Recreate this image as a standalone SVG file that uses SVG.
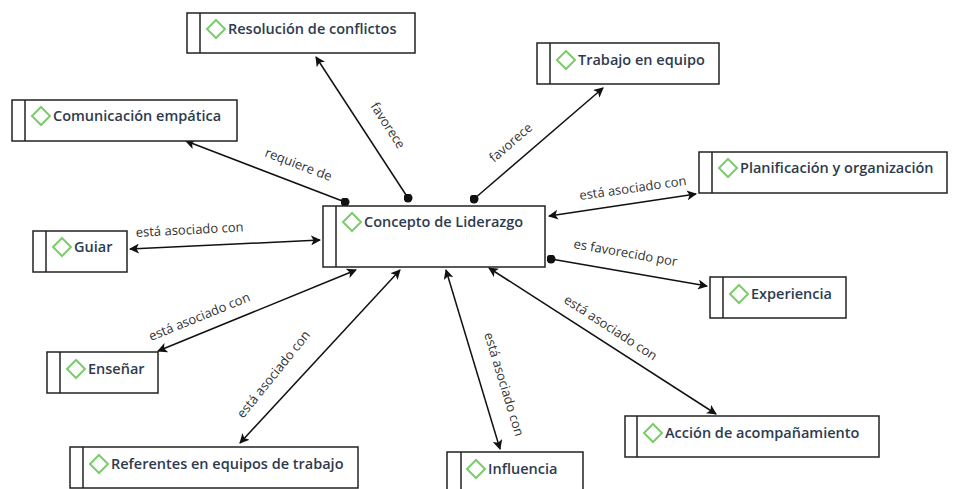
<svg xmlns="http://www.w3.org/2000/svg" width="955" height="489" viewBox="0 0 955 489">
<style>
.box{fill:#fff;stroke:#222;stroke-width:1.5}
.bar{stroke:#222;stroke-width:1.5}
.dia{fill:none;stroke:#7ccb6c;stroke-width:2}
.nt{font-family:"Open Sans","Noto Sans",sans-serif;font-size:14.5px;font-weight:600;fill:#2e3b4e}
.lt{font-family:"Open Sans","Noto Sans",sans-serif;font-size:13px;fill:#333}
.c{stroke:#111;stroke-width:1.5;fill:none}
</style>
<defs>
<marker id="ar" viewBox="0 0 10 10" refX="9" refY="5" markerWidth="10" markerHeight="10" markerUnits="userSpaceOnUse" orient="auto-start-reverse"><path d="M0,0 L10,5 L0,10 L2.5,5 z" fill="#111"/></marker>
<marker id="dt" viewBox="0 0 10 10" refX="5" refY="5" markerWidth="9" markerHeight="9" markerUnits="userSpaceOnUse"><circle cx="5" cy="5" r="5" fill="#111"/></marker>
</defs>
<rect width="955" height="489" fill="#fff"/>
<g id="connectors">
<line class="c" x1="408" y1="198" x2="316" y2="57" marker-start="url(#dt)" marker-end="url(#ar)"/>
<line class="c" x1="474" y1="199" x2="603" y2="88" marker-start="url(#dt)" marker-end="url(#ar)"/>
<line class="c" x1="345" y1="202" x2="186" y2="141" marker-start="url(#dt)" marker-end="url(#ar)"/>
<line class="c" x1="549" y1="216" x2="696" y2="194" marker-start="url(#ar)" marker-end="url(#ar)"/>
<line class="c" x1="130" y1="249" x2="320" y2="240" marker-start="url(#ar)" marker-end="url(#ar)"/>
<line class="c" x1="551" y1="259" x2="707" y2="286" marker-start="url(#dt)" marker-end="url(#ar)"/>
<line class="c" x1="158" y1="351" x2="356" y2="270" marker-start="url(#ar)" marker-end="url(#ar)"/>
<line class="c" x1="240" y1="443" x2="400" y2="270" marker-start="url(#ar)" marker-end="url(#ar)"/>
<line class="c" x1="446" y1="270" x2="500" y2="449" marker-start="url(#ar)" marker-end="url(#ar)"/>
<line class="c" x1="489" y1="268" x2="716" y2="414" marker-start="url(#ar)" marker-end="url(#ar)"/>
<text class="lt" transform="translate(370,106) rotate(57)">favorece</text>
<text class="lt" transform="translate(494,163) rotate(-41)">favorece</text>
<text class="lt" transform="translate(264,156) rotate(21)">requiere de</text>
<text class="lt" transform="translate(580,200) rotate(-8)">está asociado con</text>
<text class="lt" transform="translate(136,237) rotate(-3)">está asociado con</text>
<text class="lt" transform="translate(573,248) rotate(10)">es favorecido por</text>
<text class="lt" transform="translate(151,341) rotate(-22)">está asociado con</text>
<text class="lt" transform="translate(243,419) rotate(-51)">está asociado con</text>
<text class="lt" transform="translate(484,334) rotate(73)">está asociado con</text>
<text class="lt" transform="translate(563,302) rotate(33)">está asociado con</text>
</g>
<g id="n-concepto"><rect class="box" x="323" y="206" width="222" height="61"/><line class="bar" x1="336" y1="206" x2="336" y2="267"/><path class="dia" d="M352,213 L361,222 L352,231 L343,222 z"/><text class="nt" x="364" y="227">Concepto de Liderazgo</text></g>
<g id="n-resolucion"><rect class="box" x="187" y="13" width="228" height="40"/><line class="bar" x1="200" y1="13" x2="200" y2="53"/><path class="dia" d="M216,20 L225,29 L216,38 L207,29 z"/><text class="nt" x="228" y="34">Resolución de conflictos</text></g>
<g id="n-trabajo"><rect class="box" x="537" y="43" width="182" height="41"/><line class="bar" x1="550" y1="43" x2="550" y2="84"/><path class="dia" d="M566,51 L575,60 L566,69 L557,60 z"/><text class="nt" x="578" y="65">Trabajo en equipo</text></g>
<g id="n-comunicacion"><rect class="box" x="12" y="100" width="225" height="41"/><line class="bar" x1="25" y1="100" x2="25" y2="141"/><path class="dia" d="M41,107 L50,116 L41,125 L32,116 z"/><text class="nt" x="53" y="121">Comunicación empática</text></g>
<g id="n-planificacion"><rect class="box" x="699" y="152" width="248" height="41"/><line class="bar" x1="712" y1="152" x2="712" y2="193"/><path class="dia" d="M728,159 L737,168 L728,177 L719,168 z"/><text class="nt" x="740" y="173">Planificación y organización</text></g>
<g id="n-guiar"><rect class="box" x="33" y="231" width="94" height="41"/><line class="bar" x1="46" y1="231" x2="46" y2="272"/><path class="dia" d="M62,238 L71,247 L62,256 L53,247 z"/><text class="nt" x="74" y="252">Guiar</text></g>
<g id="n-experiencia"><rect class="box" x="710" y="277" width="136" height="41"/><line class="bar" x1="723" y1="277" x2="723" y2="318"/><path class="dia" d="M739,285 L748,294 L739,303 L730,294 z"/><text class="nt" x="751" y="299">Experiencia</text></g>
<g id="n-ensenar"><rect class="box" x="47" y="352" width="111" height="41"/><line class="bar" x1="60" y1="352" x2="60" y2="393"/><path class="dia" d="M76,360 L85,369 L76,378 L67,369 z"/><text class="nt" x="88" y="374">Enseñar</text></g>
<g id="n-accion"><rect class="box" x="625" y="416" width="254" height="41"/><line class="bar" x1="637" y1="416" x2="637" y2="457"/><path class="dia" d="M653,424 L662,433 L653,442 L644,433 z"/><text class="nt" x="665" y="438">Acción de acompañamiento</text></g>
<g id="n-referentes"><rect class="box" x="70" y="447" width="288" height="41"/><line class="bar" x1="83" y1="447" x2="83" y2="488"/><path class="dia" d="M99,455 L108,464 L99,473 L90,464 z"/><text class="nt" x="111" y="469">Referentes en equipos de trabajo</text></g>
<g id="n-influencia"><rect class="box" x="447" y="452" width="136" height="45"/><line class="bar" x1="461" y1="452" x2="461" y2="497"/><path class="dia" d="M476,460 L485,469 L476,478 L467,469 z"/><text class="nt" x="488" y="474">Influencia</text></g>
</svg>
